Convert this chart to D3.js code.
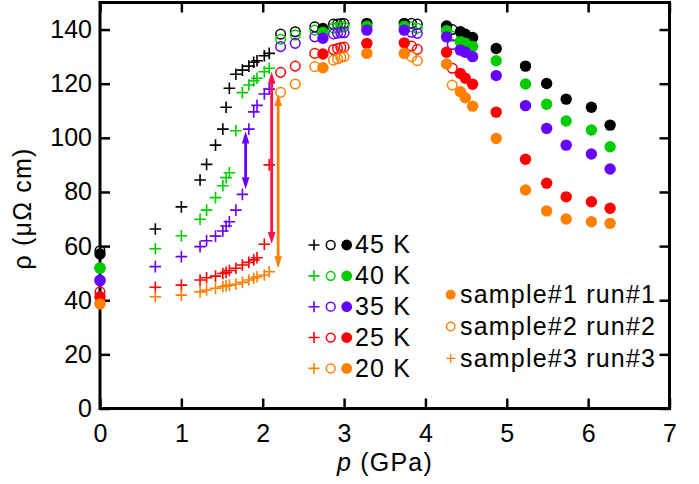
<!DOCTYPE html>
<html>
<head>
<meta charset="utf-8">
<script src="https://cdn.jsdelivr.net/npm/d3@7"></script>
<style>
  html, body { margin: 0; padding: 0; background: #fff; }
  svg { display: block; font-family: "Liberation Sans", Arial, sans-serif; }
</style>
</head>
<body>
<svg id="chart" width="699" height="484"></svg>
<script>
// Temperatures and their colours
const temps = ["45 K", "40 K", "35 K", "25 K", "20 K"];
const colors = ["#000000", "#00cc00", "#6600ff", "#ff0000", "#ff8000"];

// sample#1 run#1 (filled circles)
const p1 = [0, 2.74, 3.28, 3.74, 4.26, 4.43, 4.49, 4.58, 4.87, 5.23, 5.49, 5.73, 6.04, 6.27];
const rho1_45 = [57.1, 140.4, 142.3, 142.3, 141.3, 139.2, 138.3, 137.1, 133.0, 126.5, 120.1, 114.3, 111.3, 104.7];
const rho1_40 = [51.8, 139.0, 141.2, 141.2, 139.6, 135.5, 135.0, 133.8, 128.5, 119.9, 112.4, 106.2, 102.9, 96.7];
const rho1_35 = [47.2, 136.8, 139.8, 139.8, 137.3, 132.4, 131.6, 130.0, 123.0, 111.9, 103.5, 97.3, 94.0, 88.5];
const rho1_25 = [41.3, 131.0, 134.9, 135.1, 131.6, 123.8, 122.0, 119.8, 109.5, 92.1, 83.2, 78.2, 76.4, 74.0];
const rho1_20 = [38.6, 125.9, 131.2, 131.2, 127.3, 117.0, 114.8, 111.7, 99.8, 80.7, 73.0, 70.0, 69.0, 68.4];

// sample#2 run#2 (open circles)
const p2 = [0, 2.22, 2.40, 2.64, 2.87, 2.92, 2.96, 3.00, 3.83, 3.90, 4.33];
const rho2_45 = [58.3, 138.3, 139.2, 141.0, 142.0, 142.0, 142.2, 142.2, 142.3, 142.0, 140.0];
const rho2_40 = [52.0, 136.4, 138.0, 139.8, 140.6, 140.8, 141.0, 141.0, 141.0, 140.5, 137.5];
const rho2_35 = [47.5, 133.7, 134.9, 137.3, 138.4, 138.7, 138.8, 138.8, 139.0, 138.6, 134.5];
const rho2_25 = [43.1, 124.2, 126.5, 131.2, 132.6, 133.0, 133.4, 133.5, 133.9, 132.7, 125.7];
const rho2_20 = [39.0, 116.8, 119.9, 126.3, 128.7, 129.2, 129.7, 130.0, 130.0, 128.5, 119.5];

// sample#3 run#3 (plus signs)
const p3 = [0.68, 1.0, 1.23, 1.31, 1.42, 1.51, 1.55, 1.59, 1.67, 1.75, 1.83, 1.89, 1.93, 2.02, 2.08];
const rho3_45 = [66.3, 74.5, 84.4, 90.2, 97.3, 103.2, 111.3, 118.3, 123.5, 125.0, 126.5, 127.9, 128.5, 130.3, 131.2];
const rho3_40 = [59.0, 63.8, 69.9, 73.3, 77.9, 82.3, 85.3, 87.1, 102.6, 116.7, 119.5, 121.1, 122.0, 124.4, 125.7];
const rho3_35 = [52.4, 56.1, 59.8, 62.0, 63.7, 65.6, 67.4, 69.0, 73.3, 79.1, 103.2, 109.6, 112.0, 116.2, 118.0];
const rho3_25 = [44.8, 45.6, 47.5, 48.3, 48.9, 49.9, 50.3, 51.0, 51.8, 53.0, 54.0, 54.9, 55.7, 60.7, 90.0];
const rho3_20 = [41.3, 41.9, 43.1, 43.8, 44.4, 45.0, 45.3, 45.6, 45.9, 46.6, 47.5, 48.1, 48.7, 49.3, 50.5];

// Double-headed arrows marking the jumps (35 K, 25 K, 20 K)
const arrowP = [1.79, 2.11, 2.19];
const arrowLo = [81.0, 60.8, 51.8];
const arrowHi = [102.3, 124.4, 116.2];
const arrowColors = ["#6600ff", "#ff1050", "#ff8000"];

// Axis ticks and labels
const xTicks = [0, 1, 2, 3, 4, 5, 6, 7];
const yTicks = [0, 20, 40, 60, 80, 100, 120, 140];
const sampleLabels = ["sample#1 run#1", "sample#2 run#2", "sample#3 run#3"];

const rho1 = [rho1_45, rho1_40, rho1_35, rho1_25, rho1_20];
const rho2 = [rho2_45, rho2_40, rho2_35, rho2_25, rho2_20];
const rho3 = [rho3_45, rho3_40, rho3_35, rho3_25, rho3_20];

const svg = d3.select("#chart");
const x = d3.scaleLinear().domain([0, 7]).range([100, 669.5]);
const y = d3.scaleLinear().domain([0, 150]).range([408.5, 2.5]);

const FONT = 25;

// Axes with inward ticks on all four sides
function styleAxis(g) {
  g.select(".domain").remove();
  g.selectAll(".tick line").attr("stroke", "#000").attr("stroke-width", 2.5);
  g.selectAll(".tick text").attr("font-size", FONT).attr("fill", "#000")
    .attr("font-family", "Liberation Sans, Arial, sans-serif");
}
svg.append("g").attr("transform", `translate(0,${y(0)})`)
  .call(d3.axisBottom(x).tickValues(xTicks).tickFormat(d3.format("d")).tickSize(-10).tickPadding(15.5))
  .call(styleAxis);
svg.append("g").attr("transform", `translate(${x(0)},0)`)
  .call(d3.axisLeft(y).tickValues(yTicks).tickFormat(d3.format("d")).tickSize(-10).tickPadding(8))
  .call(styleAxis);
svg.append("g").attr("transform", `translate(0,${y(150)})`)
  .call(d3.axisTop(x).tickValues(xTicks).tickFormat("").tickSize(-10))
  .call(styleAxis);
svg.append("g").attr("transform", `translate(${x(7)},0)`)
  .call(d3.axisRight(y).tickValues(yTicks).tickFormat("").tickSize(-10))
  .call(styleAxis);

svg.append("rect")
  .attr("x", x(0)).attr("y", y(150))
  .attr("width", x(7) - x(0)).attr("height", y(0) - y(150))
  .attr("fill", "none").attr("stroke", "#000").attr("stroke-width", 3);

// Axis titles
svg.append("text")
  .attr("transform", `translate(31,${(y(0) + y(150)) / 2 + 3}) rotate(-90)`)
  .attr("text-anchor", "middle").attr("font-size", FONT).attr("letter-spacing", 1.2)
  .text("\u03c1 (\u03bc\u03a9 cm)");
const xt = svg.append("text")
  .attr("x", 385).attr("y", 471).attr("text-anchor", "middle")
  .attr("font-size", FONT).attr("letter-spacing", 1.2);
xt.append("tspan").attr("font-style", "italic").text("p");
xt.append("tspan").text(" (GPa)");

// Marker helpers
function plusPath(cx, cy, h) {
  return `M${cx - h},${cy}H${cx + h}M${cx},${cy - h}V${cy + h}`;
}

const plot = svg.append("g");

// sample#3: plus signs
rho3.forEach((vals, i) => {
  plot.append("g").selectAll("path")
    .data(p3.map((p, j) => [p, vals[j]]))
    .join("path")
    .attr("d", d => plusPath(x(d[0]), y(d[1]), 5.8))
    .attr("stroke", colors[i]).attr("stroke-width", 1.6).attr("fill", "none");
});

// sample#2: open circles
rho2.forEach((vals, i) => {
  plot.append("g").selectAll("circle")
    .data(p2.map((p, j) => [p, vals[j]]))
    .join("circle")
    .attr("cx", d => x(d[0])).attr("cy", d => y(d[1])).attr("r", 4.8)
    .attr("fill", "none").attr("stroke", colors[i]).attr("stroke-width", 1.5);
});

// sample#1: filled circles
rho1.forEach((vals, i) => {
  plot.append("g").selectAll("circle")
    .data(p1.map((p, j) => [p, vals[j]]))
    .join("circle")
    .attr("cx", d => x(d[0])).attr("cy", d => y(d[1])).attr("r", 5.7)
    .attr("fill", colors[i]);
});

// Double-headed arrows
arrowP.forEach((p, i) => {
  const ax = x(p), top = y(arrowHi[i]), bot = y(arrowLo[i]);
  const hl = 12, hw = 3.8;
  const g = svg.append("g").attr("fill", arrowColors[i]).attr("stroke", arrowColors[i]);
  g.append("line").attr("x1", ax).attr("x2", ax)
    .attr("y1", top + hl - 1).attr("y2", bot - hl + 1).attr("stroke-width", 2.8);
  g.append("path").attr("stroke", "none")
    .attr("d", `M${ax},${top}L${ax - hw},${top + hl}L${ax + hw},${top + hl}Z`);
  g.append("path").attr("stroke", "none")
    .attr("d", `M${ax},${bot}L${ax - hw},${bot - hl}L${ax + hw},${bot - hl}Z`);
});

// Temperature legend
const leg1 = svg.append("g");
temps.forEach((t, i) => {
  const base = 253.3 + i * 30.85;
  const cy = base - 8.3;
  leg1.append("path").attr("d", plusPath(314, cy, 5.5))
    .attr("stroke", colors[i]).attr("stroke-width", 1.6).attr("fill", "none");
  leg1.append("circle").attr("cx", 330.7).attr("cy", cy).attr("r", 4.4)
    .attr("fill", "none").attr("stroke", colors[i]).attr("stroke-width", 1.5);
  leg1.append("circle").attr("cx", 346.7).attr("cy", cy).attr("r", 5.4)
    .attr("fill", colors[i]);
  leg1.append("text").attr("x", 355).attr("y", base)
    .attr("font-size", FONT).attr("letter-spacing", 1.2).text(t);
});

// Sample legend
const leg2 = svg.append("g");
sampleLabels.forEach((s, i) => {
  const base = 303 + i * 31.8;
  const cy = base - 8.3;
  if (i === 0) {
    leg2.append("circle").attr("cx", 450.7).attr("cy", cy).attr("r", 5).attr("fill", "#ff8000");
  } else if (i === 1) {
    leg2.append("circle").attr("cx", 450.7).attr("cy", cy).attr("r", 4.2)
      .attr("fill", "none").attr("stroke", "#ff8000").attr("stroke-width", 1.4);
  } else {
    leg2.append("path").attr("d", plusPath(450.7, cy, 4.6))
      .attr("stroke", "#ff8000").attr("stroke-width", 1.3).attr("fill", "none");
  }
  leg2.append("text").attr("x", 460).attr("y", base)
    .attr("font-size", FONT).attr("letter-spacing", 1.2).text(s);
});
</script>
</body>
</html>
